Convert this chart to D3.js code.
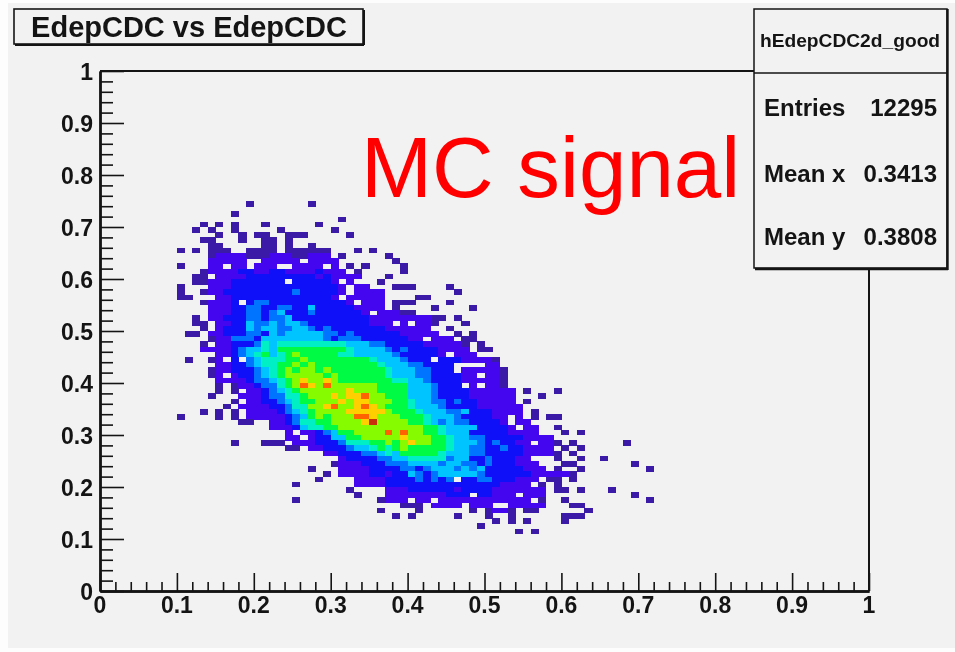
<!DOCTYPE html>
<html><head><meta charset="utf-8">
<script src="https://cdn.jsdelivr.net/npm/d3@7"></script>
<style>html,body{margin:0;padding:0;background:#fdfdfd}svg{display:block;filter:blur(0.45px)}text{font-family:"Liberation Sans",Arial,sans-serif}</style>
</head><body><svg id="c" width="955" height="652"></svg>
<script>
const titleText = "EdepCDC vs EdepCDC";
const histName = "hEdepCDC2d_good";
const statLabels = ["Entries", "Mean x", "Mean y"];
const statValues = ["12295", "0.3413", "0.3808"];
const annotation = "MC signal";
const majorTicks = [0, 0.1, 0.2, 0.3, 0.4, 0.5, 0.6, 0.7, 0.8, 0.9, 1];
const minorTicks = d3.range(0, 51).map(d => d / 50).filter(d => Math.round(d * 50) % 5 !== 0);
const binCount = 100;
// level of each bin; '.' is an empty bin: [y bin, first x bin, cells]
const binRows = [
[74,19,"1.......1"],
[72,17,"1"],
[71,31,"1"],
[70,13,"1.1.1...1......1"],
[69,12,"1.1..1.....1......1"],
[68,15,"1..1.11..111.....1"],
[67,13,"11...1..11.1"],
[66,14,"11.....11.1..1"],
[65,10,"1.1.111..1111.111111...1.1"],
[64,14,"1222211122211222.1.....1"],
[63,14,"22222..22222.2222.......1"],
[62,10,"1...22.22.222..2222.2.1.1....1"],
[61,13,"1222233223322223222.1.....1"],
[60,12,"11.2222333333333232222...1"],
[59,12,"112223333333.333332.2...1"],
[58,10,"1...222333333333333332.22...111....1"],
[57,10,"1..1223333333334333332.2222.........1"],
[56,10,"11...2233333333333332.22222....11"],
[55,13,"12223.34433333333332.222.111....1"],
[54,14,"22233443344335333332222.1....1....1"],
[53,14,"222334434533343333332.22211"],
[52,12,"1.2233344344533333333332222222211.1"],
[51,12,"11.22335445455433333333222.2.221...1"],
[50,13,"1.2333545544554343333333222222..1"],
[49,11,"11.223334435455555443433333322222..1.1"],
[48,14,"1224443555555554344433333322.222.11"],
[47,13,"1.22333465666666666555443333322222 1.1"],
[46,13,"222234556577777777765555434333322 22.11"],
[45,15,"22345675678777776655555433333 2.222"],
[44,11,"1..12.3.456667787777777765554333.33322221"],
[43,15,"22334566778787777777765554433 33....22"],
[42,14,"122333456787887877777776555443 33.222221"],
[41,14,"12.233456788888787777776555443 33322.221"],
[40,15,"2222344567898898777777766554 3333222221"],
[39,15,"1.122344678a98a88888877775554333.2.221"],
[38,15,"1.1.22345678888889888777755543333222222.1...1"],
[37,14,"1...2223446678889899a8877755543333222222...1"],
[36,17,"1.223345677888989988877655 44343322222.1"],
[35,16,"1.222233466889a889a987776555 43333222222"],
[34,13,"1.1.1.222234567888899999877765554453332222.1"],
[33,10,"1....1.1.22222345787888aa988877765554333322.2.1.11"],
[32,18,"11..2234667788889b888877654 54433332.22"],
[31,22,"222356677888888888887765555333 32.22..1"],
[30,24,"2.22345778888a8a88776555333332222...1.1"],
[29,24,"22.2335577888889888776554 4333332222"],
[28,17,"1...111.222333466677878988776 5554343322.221.1......1"],
[27,24,"11.2233345567678777776 5544334332222.1.1"],
[26,29,"223334456577777655544333332222 1.1"],
[25,31,"2333344556666645533433322...1..1..1"],
[24,30,"122233344455554554434333222...11.......1"],
[23,27,"1...222233334434555454533333222.1..1........1"],
[22,29,"1.222233233543455555433333322 2221"],
[21,28,"1....222233334343 4.3344333222.11.1"],
[20,25,"1.......22223333333333333332222.1.1"],
[19,32,"1....222333333233332222222.11.1...1"],
[18,33,"1...22222222333.33222.222...........1"],
[17,25,"1..........1222.22.222222222222.1..1..........1"],
[16,39,"111.2222.222..22222...11"],
[15,36,"1....1......1.1221.11......1"],
[14,38,"1.1.....1...1..1......111"],
[13,51,"1.1.1....1"],
[12,49,"1"],
[11,54,"1.1"]
].map(([j, s, c]) => [j, s, c.replace(/ /g, "")]);
const levelColours = {"1":"#3a1aa6","2":"#4306ee","3":"#1010f8","4":"#0074ff","5":"#00c4ff","6":"#00efc4","7":"#00fb44","8":"#86fb00","9":"#ffcf00","a":"#ff6200","b":"#c8300c"};

const svg = d3.select("#c");
const x = d3.scaleLinear().domain([0, 1]).range([100, 869]);
const y = d3.scaleLinear().domain([0, 1]).range([591, 71]);
const black = "#141414";

svg.append("rect").attr("x", 8).attr("y", 3).attr("width", 947).attr("height", 645).attr("fill", "#f2f2f2");

// histogram bins
const bins = [];
binRows.forEach(([j, start, cells]) => {
  Array.from(cells).forEach((level, k) => {
    if (level !== ".") bins.push({ i: start + k, j, level });
  });
});
svg.append("g").attr("shape-rendering", "crispEdges").selectAll("rect").data(bins).join("rect")
  .attr("x", d => x(d.i / binCount))
  .attr("y", d => y((d.j + 1) / binCount))
  .attr("width", d => x((d.i + 1) / binCount) - x(d.i / binCount) + 0.4)
  .attr("height", d => y(d.j / binCount) - y((d.j + 1) / binCount) + 0.4)
  .attr("fill", d => levelColours[d.level]);

// frame
const frame = svg.append("g").attr("stroke", black).attr("stroke-width", 2).attr("fill", "none");
frame.append("line").attr("x1", x(0)).attr("x2", x(1)).attr("y1", y(1)).attr("y2", y(1));
frame.append("line").attr("x1", x(1)).attr("x2", x(1)).attr("y1", y(1)).attr("y2", y(0));

function axisLayer(axis, tx, ty) {
  const g = svg.append("g").attr("transform", `translate(${tx},${ty})`).call(axis);
  g.select(".domain").attr("stroke", black).attr("stroke-width", 2.4);
  g.selectAll(".tick line").attr("stroke", black).attr("stroke-width", 1.6);
  return g;
}
const fmt = d => d === 0 ? "0" : d === 1 ? "1" : d3.format(".1f")(d);
// axes: ticks point into the plot, labels sit outside
axisLayer(d3.axisTop(x).tickValues(majorTicks).tickSize(18).tickSizeOuter(0).tickFormat(""), 0, y(0));
axisLayer(d3.axisTop(x).tickValues(minorTicks).tickSize(9).tickSizeOuter(0).tickFormat(""), 0, y(0));
axisLayer(d3.axisRight(y).tickValues(majorTicks).tickSize(24).tickSizeOuter(0).tickFormat(""), x(0), 0);
axisLayer(d3.axisRight(y).tickValues(minorTicks).tickSize(13).tickSizeOuter(0).tickFormat(""), x(0), 0);

svg.append("g").selectAll("text").data(majorTicks).join("text")
  .attr("x", d => x(d)).attr("y", 613).attr("text-anchor", "middle")
  .attr("font-size", 23).attr("font-weight", "bold").attr("fill", black).text(fmt);
svg.append("g").selectAll("text").data(majorTicks).join("text")
  .attr("x", 93).attr("y", d => y(d) + 8.5).attr("text-anchor", "end")
  .attr("font-size", 23).attr("font-weight", "bold").attr("fill", black).text(fmt);

// title box
svg.append("rect").attr("x", 14).attr("y", 9).attr("width", 349).attr("height", 35)
  .attr("fill", "#f2f2f2").attr("stroke", black).attr("stroke-width", 1.6);
svg.append("line").attr("x1", 15).attr("x2", 364).attr("y1", 45).attr("y2", 45).attr("stroke", black).attr("stroke-width", 2);
svg.append("line").attr("x1", 364).attr("x2", 364).attr("y1", 10).attr("y2", 45).attr("stroke", black).attr("stroke-width", 2);
svg.append("text").attr("x", 189).attr("y", 37).attr("text-anchor", "middle")
  .attr("font-size", 29).attr("font-weight", "bold").attr("fill", black).text(titleText);

// annotation
svg.append("text").attr("x", 361).attr("y", 197).attr("font-size", 85.3).attr("fill", "#ff0000").text(annotation);

// statistics box
svg.append("rect").attr("x", 754).attr("y", 9).attr("width", 193).attr("height", 259)
  .attr("fill", "#f2f2f2").attr("stroke", black).attr("stroke-width", 1.5);
svg.append("line").attr("x1", 947.5).attr("x2", 947.5).attr("y1", 9).attr("y2", 270).attr("stroke", black).attr("stroke-width", 2.4);
svg.append("line").attr("x1", 755).attr("x2", 948).attr("y1", 269).attr("y2", 269).attr("stroke", black).attr("stroke-width", 2.4);
svg.append("line").attr("x1", 754).attr("x2", 947).attr("y1", 73).attr("y2", 73).attr("stroke", black).attr("stroke-width", 1.6);
svg.append("text").attr("x", 850).attr("y", 47).attr("text-anchor", "middle")
  .attr("font-size", 19.2).attr("font-weight", "bold").attr("fill", black).text(histName);
const statY = [116, 182, 245];
svg.append("g").selectAll("text").data(statLabels).join("text")
  .attr("x", 764).attr("y", (d, k) => statY[k]).attr("font-size", 24).attr("font-weight", "bold").attr("fill", black).text(d => d);
svg.append("g").selectAll("text").data(statValues).join("text")
  .attr("x", 937).attr("y", (d, k) => statY[k]).attr("text-anchor", "end").attr("font-size", 24).attr("font-weight", "bold").attr("fill", black).text(d => d);
</script></body></html>
